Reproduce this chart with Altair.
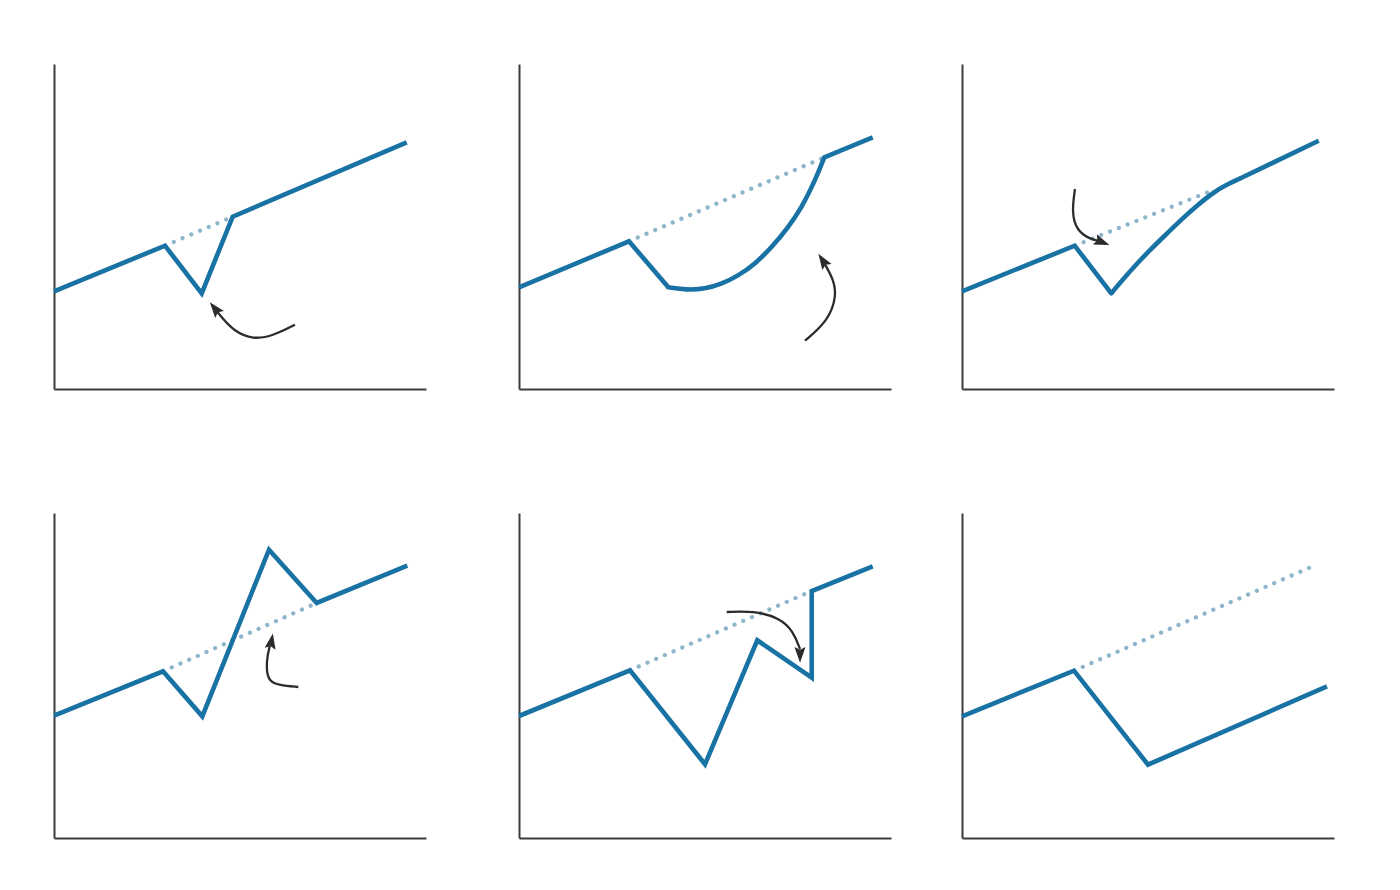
import altair as alt
import pandas as pd

# ---------------- data (panel units, origin at the axes corner) ----------------
# V-shaped recovery
v_line_x = [0, 111, 147.7, 178.7, 352.7]
v_line_y = [97.7, 143.3, 95.7, 172.3, 246.7]
v_trend_x = [111, 178.7]
v_trend_y = [143.3, 172.3]
v_arrow_x = [241, 219.3, 199.3, 179.3, 167.7, 163]
v_arrow_y = [64.3, 53.3, 49.3, 58.3, 71.7, 77.5]
v_head = [161.4, 79.8, 321.5]

# U-shaped recovery
u_line_x = [0, 110, 149.3]
u_line_y = [101.7, 147.7, 101.7]
u_curve_x = [149.3, 167.7, 186, 202.7, 219.3, 236, 252.7, 269.3, 282.7, 292.7, 299.3, 305.3]
u_curve_y = [101.7, 99, 100, 105, 113.3, 125, 141.7, 161.7, 181.7, 201.7, 216.7, 231.7]
u_tail_x = [305.3, 353.7]
u_tail_y = [231.7, 251.7]
u_trend_x = [110, 305.3]
u_trend_y = [147.7, 231.7]
u_arrow_x = [286, 309.3, 317.7, 314.3, 306]
u_arrow_y = [48.3, 68.3, 93.3, 110, 124.5]
u_head = [304.3, 127.7, 326.8]

# Swoosh recovery
s_line_x = [0, 112.7, 149.3]
s_line_y = [97.7, 143.3, 95.7]
s_curve_x = [149.3, 160, 175, 190, 205, 220, 235, 252, 265, 277]
s_curve_y = [95.7, 108.5, 125.5, 141, 155.5, 170, 183.5, 197, 204.5, 210]
s_tail_x = [277, 356.7]
s_tail_y = [210, 248.3]
s_trend_x = [112.7, 252.7]
s_trend_y = [143.3, 199.5]
s_arrow_x = [113, 109.7, 114.7, 128, 136]
s_arrow_y = [200, 176.7, 158.3, 150, 148.3]
s_head = [139.1, 147.2, 111.4]

# W-shaped recovery
w_line_x = [0, 109, 148.3, 215, 262.7, 353.3]
w_line_y = [122.3, 166.7, 121.7, 288.3, 235, 272.3]
w_trend_x = [109, 262.7]
w_trend_y = [166.7, 235]
w_arrow_x = [244.3, 225, 215, 212.3, 213.3, 215.7]
w_arrow_y = [151, 152.7, 156.7, 168.3, 181.7, 191.7]
w_head = [217.3, 195.8, 10]

# Double-dip / square-root recovery
d_line_x = [0, 111, 186, 238.3, 292.7, 292.7, 353.7]
d_line_y = [122, 167.7, 73.7, 197.7, 160.3, 247, 271.7]
d_trend_x = [111, 292.7]
d_trend_y = [167.7, 247]
d_arrow_x = [207.7, 234.3, 261, 274.3, 281]
d_arrow_y = [226, 227.3, 220, 206.7, 189]
d_head = [281, 184.3, 180]

# L-shaped recovery
l_line_x = [0, 112, 186, 365]
l_line_y = [121.7, 167.3, 73.3, 151.7]
l_trend_x = [112, 354.3]
l_trend_y = [167.3, 273.3]

# ---------------- styling ----------------
BLUE = "#1872a4"
DOT = "#8db6cb"
INK = "#2b2b2b"
AXIS = "#3c3c3c"
W, H = 372, 325
HEAD = "M0,-1L0.62,0.75L0,0.45L-0.62,0.75Z"

X = alt.X("x:Q", title=None, scale=alt.Scale(domain=[0, W], nice=False, zero=False))
Y = alt.Y("y:Q", title=None, scale=alt.Scale(domain=[0, H], nice=False, zero=False))


def xy(xs, ys):
    return pd.DataFrame({"x": xs, "y": ys, "i": list(range(len(xs)))})


def panel(lines, trend, curves=(), arrow=None, head=None):
    layers = [
        alt.Chart(xy(*trend)).mark_line(
            color=DOT, strokeWidth=4.2, strokeDash=[0.1, 9.4], strokeCap="round"
        ).encode(x=X, y=Y, order="i:Q")
    ]
    for seg in lines:
        layers.append(
            alt.Chart(xy(*seg)).mark_line(
                color=BLUE, strokeWidth=4.6, strokeJoin="miter", strokeCap="butt"
            ).encode(x=X, y=Y, order="i:Q")
        )
    for c in curves:
        layers.append(
            alt.Chart(xy(*c)).mark_line(
                color=BLUE, strokeWidth=4.6, interpolate="basis", strokeCap="round"
            ).encode(x=X, y=Y, order="i:Q")
        )
    if arrow is not None:
        layers.append(
            alt.Chart(xy(*arrow)).mark_line(
                color=INK, strokeWidth=2.3, interpolate="basis"
            ).encode(x=X, y=Y, order="i:Q")
        )
        hd = pd.DataFrame({"x": [head[0]], "y": [head[1]], "a": [head[2]]})
        layers.append(
            alt.Chart(hd).mark_point(
                shape=HEAD, filled=True, color=INK, size=320, opacity=1, strokeWidth=0
            ).encode(x=X, y=Y, angle=alt.Angle("a:Q", scale=None))
        )
    return alt.layer(*layers).properties(width=W, height=H)


p1 = panel([(v_line_x, v_line_y)], (v_trend_x, v_trend_y),
           arrow=(v_arrow_x, v_arrow_y), head=v_head)
p2 = panel([(u_line_x, u_line_y), (u_tail_x, u_tail_y)], (u_trend_x, u_trend_y),
           curves=[(u_curve_x, u_curve_y)], arrow=(u_arrow_x, u_arrow_y), head=u_head)
p3 = panel([(s_line_x, s_line_y), (s_tail_x, s_tail_y)], (s_trend_x, s_trend_y),
           curves=[(s_curve_x, s_curve_y)], arrow=(s_arrow_x, s_arrow_y), head=s_head)
p4 = panel([(w_line_x, w_line_y)], (w_trend_x, w_trend_y),
           arrow=(w_arrow_x, w_arrow_y), head=w_head)
p5 = panel([(d_line_x, d_line_y)], (d_trend_x, d_trend_y),
           arrow=(d_arrow_x, d_arrow_y), head=d_head)
p6 = panel([(l_line_x, l_line_y)], (l_trend_x, l_trend_y))

row1 = alt.hconcat(alt.hconcat(p1, p2, spacing=83), p3, spacing=61)
row2 = alt.hconcat(alt.hconcat(p4, p5, spacing=83), p6, spacing=61)

chart = (
    alt.vconcat(row1, row2, spacing=124)
    .properties(padding={"left": 36, "top": 56, "right": 5, "bottom": 5}, background="white")
    .configure_view(stroke=None)
    .configure_axis(
        labels=False, ticks=False, grid=False, domainColor=AXIS, domainWidth=2, minExtent=0
    )
    .configure_concat(spacing=0)
)

chart.save("out.html", embed_options={"renderer": "svg", "actions": False})
